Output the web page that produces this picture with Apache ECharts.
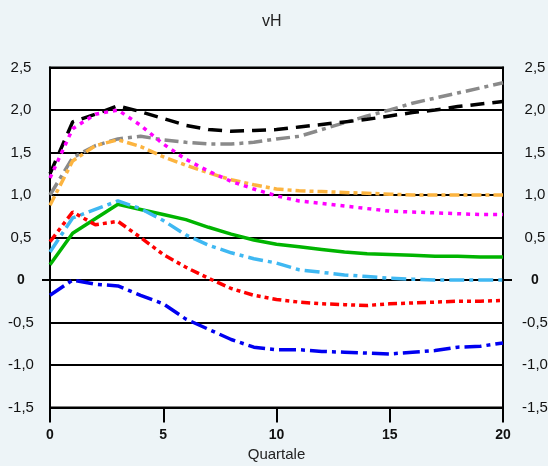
<!DOCTYPE html>
<html>
<head>
<meta charset="utf-8">
<script src="https://cdn.jsdelivr.net/npm/echarts@6/dist/echarts.min.js"></script>
<style>
html,body{margin:0;padding:0;background:#EDF4F7;}
#c{width:548px;height:466px;}
</style>
</head>
<body>
<div id="c"></div>
<script>
var quarters = [0,1,2,3,4,5,6,7,8,9,10,11,12,13,14,15,16,17,18,19,20];
var seriesBlack   = [1.25,1.86,1.95,2.05,1.98,1.9,1.82,1.77,1.75,1.76,1.77,1.8,1.83,1.86,1.89,1.93,1.97,2.0,2.04,2.07,2.1];
var seriesGray    = [1.0,1.44,1.58,1.66,1.69,1.65,1.62,1.6,1.6,1.62,1.66,1.69,1.77,1.85,1.93,2.0,2.08,2.14,2.2,2.26,2.32];
var seriesOrange  = [0.88,1.4,1.58,1.65,1.57,1.45,1.35,1.26,1.18,1.12,1.07,1.05,1.04,1.03,1.02,1.01,1.0,1.0,1.0,1.0,1.0];
var seriesMagenta = [1.2,1.78,1.95,2.0,1.82,1.6,1.42,1.28,1.16,1.07,0.99,0.93,0.9,0.87,0.84,0.81,0.8,0.79,0.78,0.77,0.77];
var seriesGreen   = [0.18,0.55,0.72,0.89,0.83,0.77,0.71,0.62,0.54,0.47,0.42,0.39,0.36,0.33,0.31,0.3,0.29,0.28,0.28,0.27,0.27];
var seriesLBlue   = [0.33,0.73,0.83,0.93,0.84,0.7,0.53,0.41,0.32,0.25,0.2,0.12,0.09,0.06,0.04,0.02,0.01,0.0,0.0,0.0,0.0];
var seriesRed     = [0.45,0.8,0.65,0.69,0.5,0.3,0.15,0.02,-0.1,-0.18,-0.23,-0.26,-0.28,-0.29,-0.3,-0.28,-0.27,-0.26,-0.25,-0.25,-0.24];
var seriesBlue    = [-0.18,0.0,-0.05,-0.07,-0.18,-0.28,-0.46,-0.58,-0.7,-0.79,-0.82,-0.82,-0.84,-0.85,-0.86,-0.87,-0.85,-0.83,-0.79,-0.78,-0.74];

function pairs(v){ return quarters.map(function(q,i){ return [q, v[i]]; }); }

var FONT = '"Liberation Sans", Arial, sans-serif';
function yFmt(v){
  if (Math.abs(v) < 1e-9) return '{b|0}';
  return v.toFixed(1).replace('.', ',');
}
function yLabel(margin){
  return {align:'center', margin:margin, color:'#111', fontSize:15, fontFamily:FONT, formatter:yFmt,
    rich:{b:{fontWeight:'bold', fontSize:14, fontFamily:FONT, color:'#111'}}};
}

function line(data, color, type, width){
  return {type:'line', data:pairs(data), symbol:'none', smooth:false, yAxisIndex:0,
    lineStyle:{color:color, width:width||3.5, type:type, cap:'butt'}};
}
function zeroTickAxis(pos, len){
  return {type:'value', min:-1.5, max:2.5, interval:0.5, position:pos, offset:0,
    axisLine:{show:false},
    axisTick:{show:true, customValues:[0], length:len, lineStyle:{color:'#000', width:2}},
    axisLabel:{show:false}, splitLine:{show:false}};
}

var chart = echarts.init(document.getElementById('c'), null, {renderer:'canvas'});
chart.setOption({
  backgroundColor:'#EDF4F7',
  animation:false,
  title:{text:'vH', left:257, top:9, textStyle:{fontSize:16, fontWeight:'normal', color:'#222', fontFamily:FONT}},
  grid:{left:50, right:45, top:67.5, bottom:58.5, outerBoundsMode:'none', containLabel:false,
    show:true, backgroundColor:'#fff', borderColor:'#000', borderWidth:2},
  xAxis:{type:'value', min:0, max:20, interval:5,
    name:'Quartale', nameLocation:'middle', nameGap:38,
    nameTextStyle:{fontSize:15, color:'#222', fontFamily:FONT},
    axisLine:{show:true, onZero:false, lineStyle:{color:'#000', width:2}},
    axisTick:{show:true, inside:false, length:15, lineStyle:{color:'#000', width:2}},
    axisLabel:{fontSize:14, fontWeight:'bold', color:'#111', margin:21, fontFamily:FONT},
    splitLine:{show:false}},
  yAxis:[
    {type:'value', min:-1.5, max:2.5, interval:0.5, position:'left', offset:0,
     axisLine:{show:true, lineStyle:{color:'#000', width:2}},
     axisTick:{show:false},
     axisLabel:yLabel(29),
     splitLine:{show:true, lineStyle:{color:'#000', width:2}}},
    {type:'value', min:-1.5, max:2.5, interval:0.5, position:'right', offset:0,
     axisLine:{show:true, lineStyle:{color:'#000', width:2}},
     axisTick:{show:false},
     axisLabel:yLabel(32),
     splitLine:{show:false}},
    zeroTickAxis('left', 8),
    zeroTickAxis('right', 9)
  ],
  series:[
    line(seriesGray, '#8A8A8A', [14,5,4,5]),
    line(seriesBlack, '#000000', [14,8]),
    line(seriesOrange, '#FCB440', [10,4,4,4]),
    line(seriesMagenta, '#FF00FF', [4,5]),
    line(seriesGreen, '#00B400', 'solid'),
    line(seriesLBlue, '#3FB8F2', [15,5,4,5]),
    line(seriesRed, '#FF0000', [9,4,4,4,4,4]),
    line(seriesBlue, '#0000F0', [17,5,4,5])
  ]
});
</script>
</body>
</html>
